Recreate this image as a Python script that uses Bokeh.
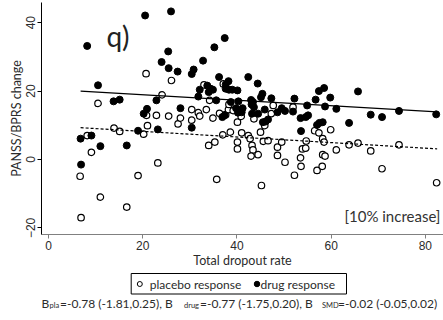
from bokeh.plotting import figure
from bokeh.layouts import column
from bokeh.models import Range1d, FixedTicker, Label
from bokeh.core.properties import value
from bokeh.embed import file_html
from bokeh.resources import INLINE

# ---- data ----
drug_x = [6.8, 6.9, 8.2, 9.1, 10.5, 11.0, 13.8, 15.1, 16.6, 19.0, 20.2, 20.5, 20.9, 22.9, 23.2,
          24.0, 25.4, 25.5, 26.0, 27.4, 28.0, 30.4, 30.8, 30.4, 31.8, 32.1, 32.8, 33.7, 34.4, 34.0,
          34.9, 35.2, 35.6, 36.2, 37.4, 37.6, 38.2, 37.6, 38.3, 39.0, 40.1, 38.7, 40.3, 36.9, 37.4,
          39.8, 40.5, 41.0, 40.2, 41.2, 42.4, 43.0, 43.4, 43.1, 43.6, 43.2, 44.4, 44.5, 45.1, 45.4,
          45.9, 45.5, 46.1, 46.6, 47.3, 48.6, 49.5, 50.2, 51.9, 52.2, 53.5, 53.6, 54.6, 55.1, 54.9,
          56.7, 57.4, 58.5, 59.8, 58.7, 57.0, 57.5, 58.2, 61.1, 63.8, 65.7, 68.4, 70.8, 74.4, 82.3]
drug_y = [6.1, -1.5, 33.2, 7.0, 21.7, 3.9, 17.0, 17.5, 4.1, 8.4, 13.4, 42.1, 14.8, 17.3, 8.8,
          28.5, 31.6, 26.7, 43.3, 25.7, 15.0, 25.0, 26.3, 9.3, 18.4, 20.4, 28.9, 21.6, 20.7, 19.7,
          20.4, 32.8, 17.3, 24.1, 35.5, 21.9, 22.9, 20.7, 20.4, 20.4, 20.2, 16.8, 17.0, 12.4, 12.9,
          15.0, 14.3, 13.8, 13.7, 15.0, 24.1, 17.4, 16.8, 16.1, 15.3, 13.4, 22.2, 13.4, 18.2, 19.2,
          14.6, 10.9, 11.1, 11.7, 17.9, 13.8, 15.0, 14.2, 14.0, 17.8, 12.1, 8.3, 12.4, 12.9, 15.8,
          17.5, 20.0, 20.9, 18.1, 15.5, 10.1, 10.7, 10.9, 14.8, 10.7, 19.9, 13.1, 12.4, 14.2, 13.2]

placebo_x = [6.7, 6.9, 8.2, 9.1, 10.5, 11.0, 13.9, 15.1, 16.6, 19.0, 20.2, 20.7, 21.0, 20.8, 23.2,
             22.9, 24.1, 25.5, 26.1, 27.5, 28.0, 30.4, 30.4, 31.8, 32.1, 33.0, 33.5, 34.2, 34.9, 34.0,
             35.3, 35.7, 36.3, 37.6, 38.2, 37.1, 37.0, 38.6, 40.1, 40.9, 41.0, 42.4, 42.8, 40.1, 40.1,
             43.2, 43.4, 43.0, 44.5, 43.6, 45.0, 45.9, 45.6, 46.6, 45.2, 47.3, 47.7, 48.6, 49.5, 48.6,
             50.2, 51.9, 52.2, 53.5, 53.6, 53.9, 54.6, 54.7, 56.5, 57.4, 59.9, 58.2, 58.5, 58.2, 58.7,
             57.0, 58.1, 61.1, 63.8, 65.7, 68.4, 70.8, 74.4, 82.4, 38.3, 39.2]
placebo_y = [-4.9, -17.0, 7.0, 2.1, 16.4, -11.0, 9.2, 8.2, -13.9, -4.7, 7.4, 25.1, 9.9, 12.9, -1.0,
             12.9, 18.9, 12.7, 23.1, 10.4, 12.1, 14.6, 11.5, 13.7, 12.7, 21.8, 14.6, 17.3, 12.1, 4.1,
             5.1, -5.8, 13.5, 13.1, 14.6, 22.1, 7.2, 8.0, 10.9, 12.6, 7.8, 7.0, 6.1, 5.1, 3.1,
             4.1, 2.8, 1.0, 1.4, 11.9, 8.0, 9.9, 5.3, 5.5, -7.6, 13.4, 15.8, 3.6, 5.1, 1.2,
             -0.8, 15.3, -4.6, 0.5, -2.0, 3.1, 3.3, 5.4, 8.4, 7.8, 8.7, 6.1, 5.1, 1.4, 1.0,
             -3.2, -2.0, 2.8, 4.3, 4.8, 2.5, -2.7, 4.3, -6.8, 16.1, 14.3]

fit_x = [6.8, 82.5]
drug_fit = [20.0, 13.9]
placebo_fit = [9.3, 3.1]

x_ticks = [0, 20, 40, 60, 80]
y_ticks = [-20, 0, 20, 40]

panel_tag = "q)"
note_text = "[10% increase]"
x_title = "Total dropout rate"
y_title = "PANSS/BPRS change"
legend_labels = ["placebo response", "drug response"]
caption_main = ["B", "=-0.78 (-1.81,0.25), B", "=-0.77 (-1.75,0.20), B", "=-0.02 (-0.05,0.02)"]
caption_sub = ["pla", "drug", "SMD"]

FONT = "Lato"
TICK_FONT = "Liberation Sans"
TXT = "#2b2b2b"

# ---------------- main scatter panel ----------------
p = figure(width=443, height=272, output_backend="svg", toolbar_location=None,
           x_range=Range1d(-1.5, 83.85), y_range=Range1d(-21.93, 45.9),
           min_border_left=41, min_border_right=0, min_border_top=2, min_border_bottom=38,
           background_fill_color="white", border_fill_color="white")
p.outline_line_color = None
p.grid.visible = False

p.xaxis.ticker = FixedTicker(ticks=x_ticks)
p.yaxis.ticker = FixedTicker(ticks=y_ticks)
for ax in (p.xaxis, p.yaxis):
    ax.minor_tick_line_color = None
    ax.major_tick_in = 0
    ax.major_tick_out = 4
    ax.major_label_text_font = TICK_FONT
    ax.major_label_text_font_size = "12px"
    ax.major_label_text_color = TXT
    ax.axis_label_text_font = FONT
    ax.axis_label_text_font_style = "normal"
    ax.axis_label_text_font_size = "12.5px"
    ax.axis_label_text_color = TXT
    ax.axis_label_standoff = 0
p.yaxis.axis_line_color = "black"
p.yaxis.major_tick_line_color = "black"
p.yaxis.major_label_orientation = "vertical"
p.yaxis.major_label_standoff = 2
p.yaxis.axis_label = y_title
p.xaxis.axis_line_color = "#808080"
p.xaxis.major_tick_line_color = "#808080"
p.xaxis.major_label_standoff = 2
p.xaxis.axis_label = x_title

p.scatter(placebo_x, placebo_y, marker="circle", size=6.5, fill_color="white",
          line_color="black", line_width=1.2)
p.scatter(drug_x, drug_y, marker="circle", size=7, fill_color="black", line_color="black")

p.line(fit_x, drug_fit, line_color="black", line_width=1.2)
p.line(fit_x, placebo_fit, line_color="black", line_width=1.2, line_dash="3 2")

p.add_layout(Label(x=12.3, y=36.0, text=panel_tag, text_font=FONT,
                   text_font_size="28px", text_color="#222222", text_baseline="alphabetic"))
p.add_layout(Label(x=83.2, y=-16.4, text=note_text, text_font=FONT,
                   text_font_size="15px", text_color="#333333", text_align="right",
                   text_baseline="middle"))

# ---------------- legend box + caption strip ----------------
# the column aligns this strip's frame with the main frame (pixels 41..443),
# so its x range is given in page pixels
q = figure(width=443, height=48, output_backend="svg", toolbar_location=None,
           x_range=Range1d(41, 443), y_range=Range1d(48, 0),
           min_border_left=41, min_border_right=0, min_border_top=0, min_border_bottom=0,
           x_axis_location=None, y_axis_location=None,
           background_fill_color="white", border_fill_color="white")
q.outline_line_color = None
q.grid.visible = False

q.quad(left=[130.7], right=[346], top=[1], bottom=[21.5], fill_color=None,
       line_color="black", line_width=1)
q.scatter([139.3], [11.5], marker="circle", size=5, fill_color="white", line_color="black",
          line_width=1)
q.scatter([256.5], [11.5], marker="circle", size=5.5, fill_color="black", line_color="black")
q.text([149.3, 260], [11.5, 11.5], text=legend_labels, text_font=value(FONT),
       text_font_size="12px", text_color=TXT, text_baseline="middle", text_align="left")

q.text([41, 59.5, 199.5, 337.5], [31, 31, 31, 31], text=caption_main, text_font=value(FONT),
       text_font_size="12px", text_color=TXT, text_baseline="middle", text_align="left")
q.text([49, 183.5, 321.5], [33, 33, 33], text=caption_sub, text_font=value(FONT),
       text_font_size="7.5px", text_color=TXT, text_baseline="middle", text_align="left")

layout = column(p, q, spacing=0)
open("out.html", "w").write(file_html(layout, INLINE))
